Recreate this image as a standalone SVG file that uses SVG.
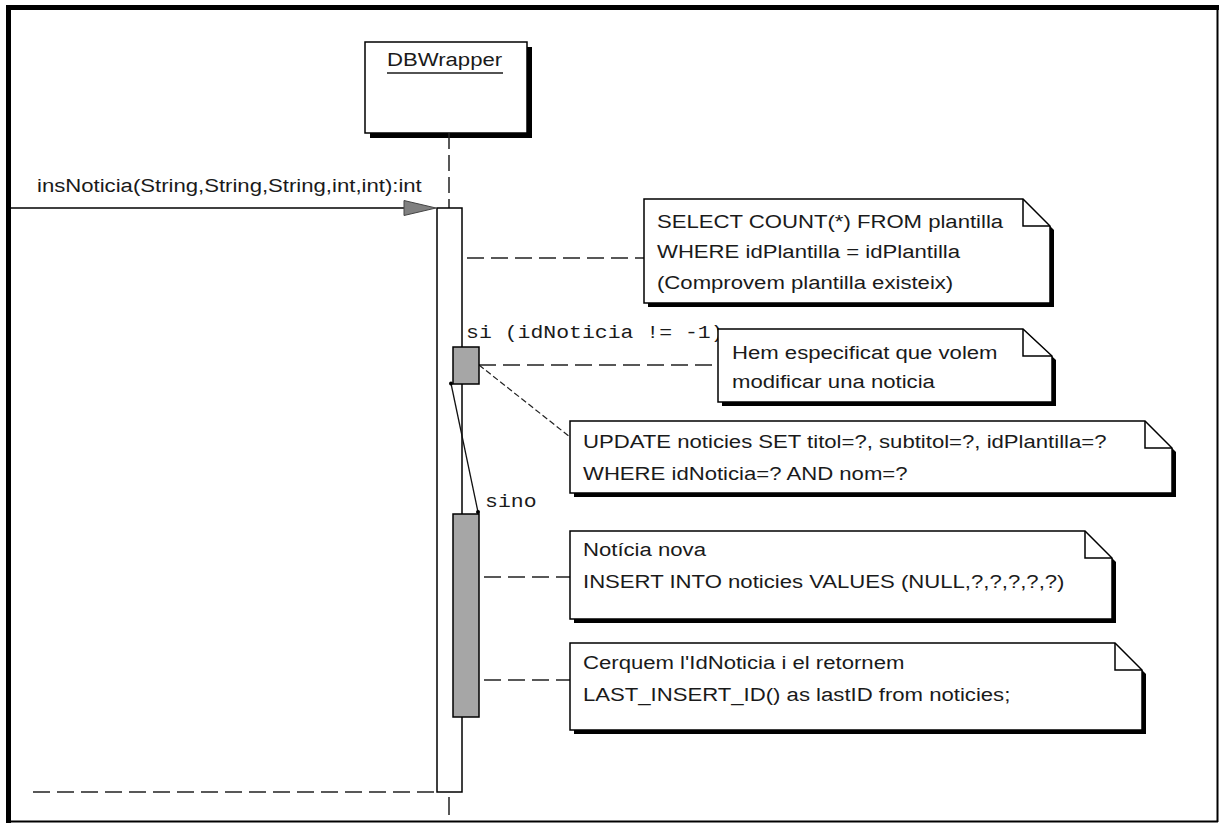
<svg xmlns="http://www.w3.org/2000/svg" width="1219" height="823" viewBox="0 0 1219 823">
  <style>
    .lbl { font-family: "Liberation Sans", Arial, sans-serif; font-size: 18px; fill: #1a1a1a; }
    .mono { font-family: "Liberation Mono", "Courier New", monospace; font-size: 19px; fill: #1a1a1a; }
    .box { fill: #ffffff; stroke: #000000; stroke-width: 1.5; }
    .shadow { fill: #000000; }
    .act { fill: #ffffff; stroke: #000000; stroke-width: 1.5; }
    .act-alt { fill: #a6a6a6; stroke: #000000; stroke-width: 1.5; }
    .dash { fill: none; stroke: #222222; stroke-width: 1.5; stroke-dasharray: 17 7; }
    .dash-fine { fill: none; stroke: #222222; stroke-width: 1.2; stroke-dasharray: 6 3; }
    .solid { fill: none; stroke: #000000; stroke-width: 1.5; }
    .fold { fill: none; stroke: #000000; stroke-width: 1.5; }
  </style>

  <!-- outer frame -->
  <g id="frame">
    <rect x="0" y="0" width="1219" height="823" fill="#ffffff"/>
    <rect x="6" y="5" width="5" height="818" fill="#000000"/>
    <rect x="6" y="5" width="1213" height="5" fill="#000000"/>
    <line x1="1217.5" y1="10" x2="1217.5" y2="822" stroke="#000000" stroke-width="2"/>
    <line x1="6" y1="821.5" x2="1218" y2="821.5" stroke="#000000" stroke-width="2"/>
  </g>

  <!-- lifeline head -->
  <g id="dbwrapper">
    <rect class="shadow" x="370" y="47" width="162" height="91"/>
    <rect class="box" x="365" y="42" width="162" height="91"/>
    <text class="lbl" transform="matrix(1.23 0 0 1 387 66)">DBWrapper</text>
    <line x1="387" y1="73" x2="503" y2="73" stroke="#1a1a1a" stroke-width="1.5"/>
  </g>

  <g id="connectors">
    <!-- lifeline -->
    <line class="dash" x1="449" y1="133" x2="449" y2="208" style="stroke-dasharray:16 6"/>
    <line class="dash" x1="449" y1="792" x2="449" y2="823" style="stroke-dasharray:0 5 18 6"/>
    <!-- incoming message -->
    <line class="solid" x1="11" y1="208" x2="406" y2="208"/>
    <polygon points="404,200.5 436,208 404,215.5" fill="#808080" stroke="#444444" stroke-width="1"/>
    <text class="lbl" transform="matrix(1.23 0 0 1 37 192)">insNoticia(String,String,String,int,int):int</text>
    <!-- return -->
    <line class="dash" x1="33" y1="792" x2="437" y2="792"/>
    <!-- note anchors -->
    <line class="dash" x1="467" y1="258" x2="644" y2="258"/>
    <line class="dash" x1="479" y1="365" x2="718" y2="365"/>
    <line class="dash-fine" x1="479" y1="365" x2="570" y2="437"/>
    <line class="dash" x1="484" y1="577" x2="570" y2="577"/>
    <line class="dash" x1="484" y1="680" x2="570" y2="680"/>
  </g>

  <!-- activation bars -->
  <g id="activation">
    <rect class="act" x="437" y="208" width="25" height="584"/>
  </g>

  <!-- link between the two branches, drawn over the bar -->
  <g id="branch-link">
    <line x1="451" y1="383.5" x2="478" y2="512" stroke="#111111" stroke-width="1.3"/>
    <circle cx="451" cy="383.5" r="2" fill="#000000"/>
    <circle cx="478" cy="512" r="2" fill="#000000"/>
  </g>

  <g id="branch-si">
    <text class="mono" transform="matrix(1.13 0 0 1 466 338)">si (idNoticia != -1)</text>
    <rect class="act-alt" x="453" y="347" width="26" height="37"/>
  </g>
  <g id="branch-sino">
    <text class="mono" transform="matrix(1.13 0 0 1 485 507)">sino</text>
    <rect class="act-alt" x="453" y="514" width="26" height="203"/>
  </g>

  <!-- notes -->
  <g id="note-select">
    <polygon class="shadow" points="648,203 1027,203 1054,230 1054,307 648,307"/>
    <polygon class="box" points="644,199 1023,199 1050,226 1050,303 644,303"/>
    <polyline class="fold" points="1023,199 1023,226 1050,226"/>
    <text class="lbl" transform="matrix(1.23 0 0 1 657 228)">SELECT COUNT(*) FROM plantilla</text>
    <text class="lbl" transform="matrix(1.23 0 0 1 657 258)">WHERE idPlantilla = idPlantilla</text>
    <text class="lbl" transform="matrix(1.23 0 0 1 657 289)">(Comprovem plantilla existeix)</text>
  </g>

  <g id="note-modificar">
    <polygon class="shadow" points="722,333 1027,333 1056,360 1056,406 722,406"/>
    <polygon class="box" points="718,329 1023,329 1052,356 1052,402 718,402"/>
    <polyline class="fold" points="1023,329 1023,356 1052,356"/>
    <text class="lbl" transform="matrix(1.23 0 0 1 732 359)">Hem especificat que volem</text>
    <text class="lbl" transform="matrix(1.23 0 0 1 732 388)">modificar una noticia</text>
  </g>

  <g id="note-update">
    <polygon class="shadow" points="574,425 1149,425 1176,452 1176,497 574,497"/>
    <polygon class="box" points="570,421 1145,421 1172,448 1172,493 570,493"/>
    <polyline class="fold" points="1145,421 1145,448 1172,448"/>
    <text class="lbl" transform="matrix(1.23 0 0 1 583 448)">UPDATE noticies SET titol=?, subtitol=?, idPlantilla=?</text>
    <text class="lbl" transform="matrix(1.23 0 0 1 583 480)">WHERE idNoticia=? AND nom=?</text>
  </g>

  <g id="note-insert">
    <polygon class="shadow" points="574,535 1089,535 1116,562 1116,623 574,623"/>
    <polygon class="box" points="570,531 1085,531 1112,558 1112,619 570,619"/>
    <polyline class="fold" points="1085,531 1085,558 1112,558"/>
    <text class="lbl" transform="matrix(1.23 0 0 1 583 556)">Notícia nova</text>
    <text class="lbl" transform="matrix(1.23 0 0 1 583 588)">INSERT INTO noticies VALUES (NULL,?,?,?,?,?)</text>
  </g>

  <g id="note-lastid">
    <polygon class="shadow" points="574,647 1119,647 1146,674 1146,734 574,734"/>
    <polygon class="box" points="570,643 1115,643 1142,670 1142,730 570,730"/>
    <polyline class="fold" points="1115,643 1115,670 1142,670"/>
    <text class="lbl" transform="matrix(1.23 0 0 1 583 669)">Cerquem l'IdNoticia i el retornem</text>
    <text class="lbl" transform="matrix(1.23 0 0 1 583 701)">LAST_INSERT_ID() as lastID from noticies;</text>
  </g>
</svg>
